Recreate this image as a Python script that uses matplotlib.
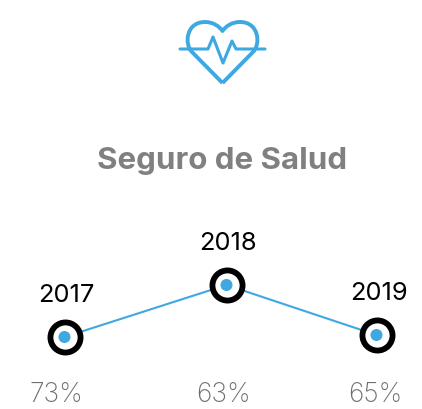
import matplotlib
matplotlib.use("Agg")
import matplotlib.pyplot as plt
from matplotlib.path import Path
from matplotlib.patches import PathPatch

years = ["2017", "2018", "2019"]
percents = ["73%", "63%", "65%"]
# the line does not follow the percents, so heights are read off the picture
point_x = [64.5, 226.5, 376.5]
point_y = [337, 285, 335]

blue = "#3EA8E0"
grey = "#808080"

plt.rcParams["font.family"] = ["Inter", "DejaVu Sans"]

fig = plt.figure(figsize=(4.22, 4.09), dpi=100)
ax = fig.add_axes([0, 0, 1, 1])
# axes in picture pixels, y going down
ax.set_xlim(0, 422)
ax.set_ylim(409, 0)
ax.axis("off")

# heart icon
heart = Path(
    [(222.5, 83), (192, 52),
     (184, 44), (186, 22), (205, 22),
     (213, 22), (219, 26), (222.5, 31),
     (226, 26), (232, 22), (240, 22),
     (259, 22), (261, 44), (253, 52),
     (222.5, 83)],
    [Path.MOVETO, Path.LINETO,
     Path.CURVE4, Path.CURVE4, Path.CURVE4,
     Path.CURVE4, Path.CURVE4, Path.CURVE4,
     Path.CURVE4, Path.CURVE4, Path.CURVE4,
     Path.CURVE4, Path.CURVE4, Path.CURVE4,
     Path.LINETO],
)
ax.add_patch(PathPatch(heart, fill=False, edgecolor=blue, lw=2.8, joinstyle="round"))
pulse_x = [180, 208, 213, 223, 232, 236, 265]
pulse_y = [49, 49, 37, 63, 41, 49, 49]
ax.plot(pulse_x, pulse_y, color=blue, lw=2.2, solid_capstyle="round", solid_joinstyle="round")

ax.text(222, 161, "Seguro de Salud", color=grey, fontsize=22.5, fontweight="bold",
        ha="center", va="center")

ax.plot(point_x, point_y, color=blue, lw=1.5, zorder=2)
ax.scatter(point_x, point_y, s=470, facecolor="white", edgecolor="black", linewidth=4.2, zorder=3)
ax.scatter(point_x, point_y, s=75, facecolor=blue, edgecolor="none", zorder=4)

year_y = [295, 243, 293]
year_x = [66, 228, 379]
for x, y, label in zip(year_x, year_y, years):
    ax.text(x, y, label, color="black", fontsize=18.3, ha="center", va="center")

pct_x = [56, 224, 375]
for x, label in zip(pct_x, percents):
    ax.text(x, 395, label, color="#6E6E6E", fontsize=19, fontweight="light", ha="center", va="center")

fig.savefig("out.png", dpi=100)
